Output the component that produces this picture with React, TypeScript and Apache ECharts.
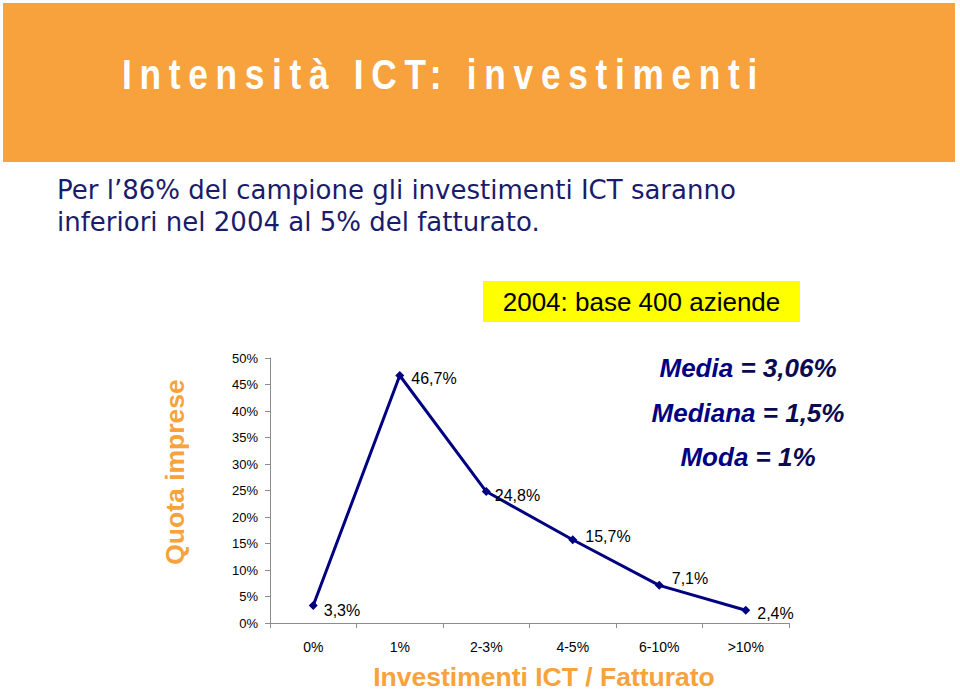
import React, { useEffect, useRef } from "react";
import * as echarts from "echarts";

const categories = ["0%", "1%", "2-3%", "4-5%", "6-10%", ">10%"];
const shares = [3.3, 46.7, 24.8, 15.7, 7.1, 2.4];
const labelOffsets: [number, number][] = [
  [2, 5],
  [3, 3],
  [0, 4],
  [4, -3],
  [4, -7],
  [3, 3],
];
const yTicks = { min: 0, max: 50, interval: 5 };
const titleText = "Intensità ICT: investimenti";
const subtitleLines = [
  "Per l\u201986% del campione gli investimenti ICT saranno",
  "inferiori nel 2004 al 5% del fatturato.",
];
const baseNote = "2004: base 400 aziende";
const stats = [
  { name: "Media", value: "3,06%" },
  { name: "Mediana", value: "1,5%" },
  { name: "Moda", value: "1%" },
];
const yAxisName = "Quota imprese";
const xAxisName = "Investimenti ICT / Fatturato";

const fmt = (v: number) => v.toFixed(1).replace(".", ",") + "%";

export default function App() {
  const ref = useRef<HTMLDivElement>(null);
  useEffect(() => {
    document.body.style.margin = "0";
    const chart = echarts.init(ref.current!, null, { renderer: "svg" });
    const navy = "#000080";
    const orange = "#F7A23C";
    const arial = "'Liberation Sans', Arial, sans-serif";
    chart.setOption({
      animation: false,
      backgroundColor: "#ffffff",
      grid: { left: 270, right: 171, top: 358, bottom: 68 },
      xAxis: {
        type: "category",
        data: categories,
        boundaryGap: true,
        axisLine: { lineStyle: { color: "#8c8c8c", width: 1 } },
        axisTick: { show: true, length: 5, lineStyle: { color: "#8c8c8c" } },
        axisLabel: {
          color: "#000",
          fontFamily: arial,
          fontSize: 14,
          margin: 17,
        },
      },
      yAxis: {
        type: "value",
        min: yTicks.min,
        max: yTicks.max,
        interval: yTicks.interval,
        splitLine: { show: false },
        axisLine: { show: true, lineStyle: { color: "#8c8c8c", width: 1 } },
        axisTick: { show: true, length: 5, lineStyle: { color: "#8c8c8c" } },
        axisLabel: {
          color: "#000",
          fontFamily: arial,
          fontSize: 13,
          margin: 12,
          formatter: (v: number) => v + "%",
        },
      },
      series: [
        {
          type: "line",
          data: shares.map((v, i) => ({
            value: v,
            label: { offset: labelOffsets[i] },
          })),
          symbol: "diamond",
          symbolSize: 9,
          lineStyle: { color: navy, width: 3 },
          itemStyle: { color: navy },
          label: {
            show: true,
            position: "right",
            distance: 4,
            color: "#000",
            fontFamily: arial,
            fontSize: 16,
            formatter: (p: any) => fmt(p.value),
          },
        },
      ],
      graphic: [
        {
          type: "rect",
          shape: { x: 3, y: 3, width: 952, height: 159 },
          style: { fill: orange },
          z: 0,
        },
        ...subtitleLines.map((t, i) => ({
          type: "text",
          x: 57,
          y: 190 + i * 32,
          style: {
            text: t,
            fill: "#1B1B6B",
            font: "26px 'DejaVu Sans', Verdana, sans-serif",
            textVerticalAlign: "middle",
          },
        })),
        {
          type: "rect",
          shape: { x: 483, y: 281, width: 317, height: 41 },
          style: { fill: "#FFFF00" },
        },
        {
          type: "text",
          x: 641.5,
          y: 302,
          style: {
            text: baseNote,
            fill: "#000",
            font: "26px " + arial,
            textAlign: "center",
            textVerticalAlign: "middle",
          },
        },
        ...stats.map((s, i) => ({
          type: "text",
          x: 748,
          y: 368 + i * 44.5,
          style: {
            text: `{n|${s.name}}{v| = ${s.value}}`,
            textAlign: "center",
            textVerticalAlign: "middle",
            rich: {
              n: { fill: navy, font: "italic bold 26px " + arial },
              v: { fill: "#0a0a50", font: "italic bold 26px " + arial },
            },
          },
        })),
        {
          type: "text",
          x: 175,
          y: 472,
          rotation: Math.PI / 2,
          style: {
            text: yAxisName,
            fill: orange,
            font: "bold 26.5px " + arial,
            textAlign: "center",
            textVerticalAlign: "middle",
          },
        },
        {
          type: "text",
          x: 544,
          y: 677,
          style: {
            text: xAxisName,
            fill: orange,
            font: "bold 26.5px " + arial,
            textAlign: "center",
            textVerticalAlign: "middle",
          },
        },
      ],
    });
    return () => chart.dispose();
  }, []);
  return (
    <div style={{ position: "relative", width: 960, height: 691 }}>
      <div ref={ref} style={{ position: "absolute", left: 0, top: 0, width: 960, height: 691 }} />
      <div
        style={{
          position: "absolute",
          left: 122,
          top: 49,
          color: "#ffffff",
          fontFamily: "'Liberation Sans', Arial, sans-serif",
          fontWeight: "bold",
          fontSize: 43,
          lineHeight: "50px",
          letterSpacing: "9.4px",
          whiteSpace: "nowrap",
          transform: "scaleX(0.82)",
          transformOrigin: "left center",
        }}
      >
        {titleText}
      </div>
    </div>
  );
}
